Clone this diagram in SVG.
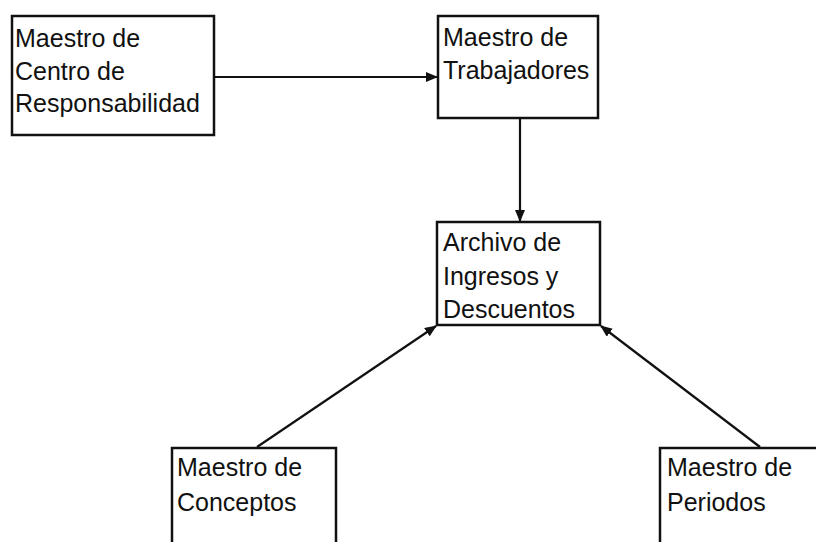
<svg xmlns="http://www.w3.org/2000/svg" width="816" height="542" viewBox="0 0 816 542">
<style>
.box{fill:#fff;stroke:#111;stroke-width:2.5}
.t{font-family:"Liberation Sans",Arial,sans-serif;font-size:25px;fill:#111}
.c{stroke:#111;stroke-width:2.2;fill:none}
</style>
<defs>
<marker id="ah" markerWidth="12" markerHeight="10" refX="11" refY="5" orient="auto" markerUnits="userSpaceOnUse">
<path d="M0,0 L12,5 L0,10 Z" fill="#111"/>
</marker>
</defs>
<rect width="816" height="542" fill="#fff"/>
<g id="connectors">
<line class="c" x1="214" y1="77" x2="437" y2="77" marker-end="url(#ah)"/>
<line class="c" x1="520" y1="118" x2="520" y2="221" marker-end="url(#ah)"/>
<line class="c" x1="257" y1="447" x2="436" y2="326" marker-end="url(#ah)"/>
<line class="c" x1="760" y1="447" x2="601" y2="326" marker-end="url(#ah)"/>
</g>
<g id="n1">
<rect class="box" x="12" y="16" width="202" height="119"/>
<text class="t" x="15" y="47">Maestro de</text>
<text class="t" x="15" y="80">Centro de</text>
<text class="t" x="15" y="112">Responsabilidad</text>
</g>
<g id="n2">
<rect class="box" x="438" y="16" width="160" height="102"/>
<text class="t" x="443" y="46">Maestro de</text>
<text class="t" x="443" y="79">Trabajadores</text>
</g>
<g id="n3">
<rect class="box" x="437" y="222" width="163" height="103"/>
<text class="t" x="443" y="251">Archivo de</text>
<text class="t" x="443" y="285">Ingresos y</text>
<text class="t" x="443" y="318">Descuentos</text>
</g>
<g id="n4">
<rect class="box" x="172" y="448" width="164" height="110"/>
<text class="t" x="177" y="476">Maestro de</text>
<text class="t" x="177" y="511">Conceptos</text>
</g>
<g id="n5">
<rect class="box" x="660" y="448" width="170" height="110"/>
<text class="t" x="667" y="476">Maestro de</text>
<text class="t" x="667" y="511">Periodos</text>
</g>
</svg>
